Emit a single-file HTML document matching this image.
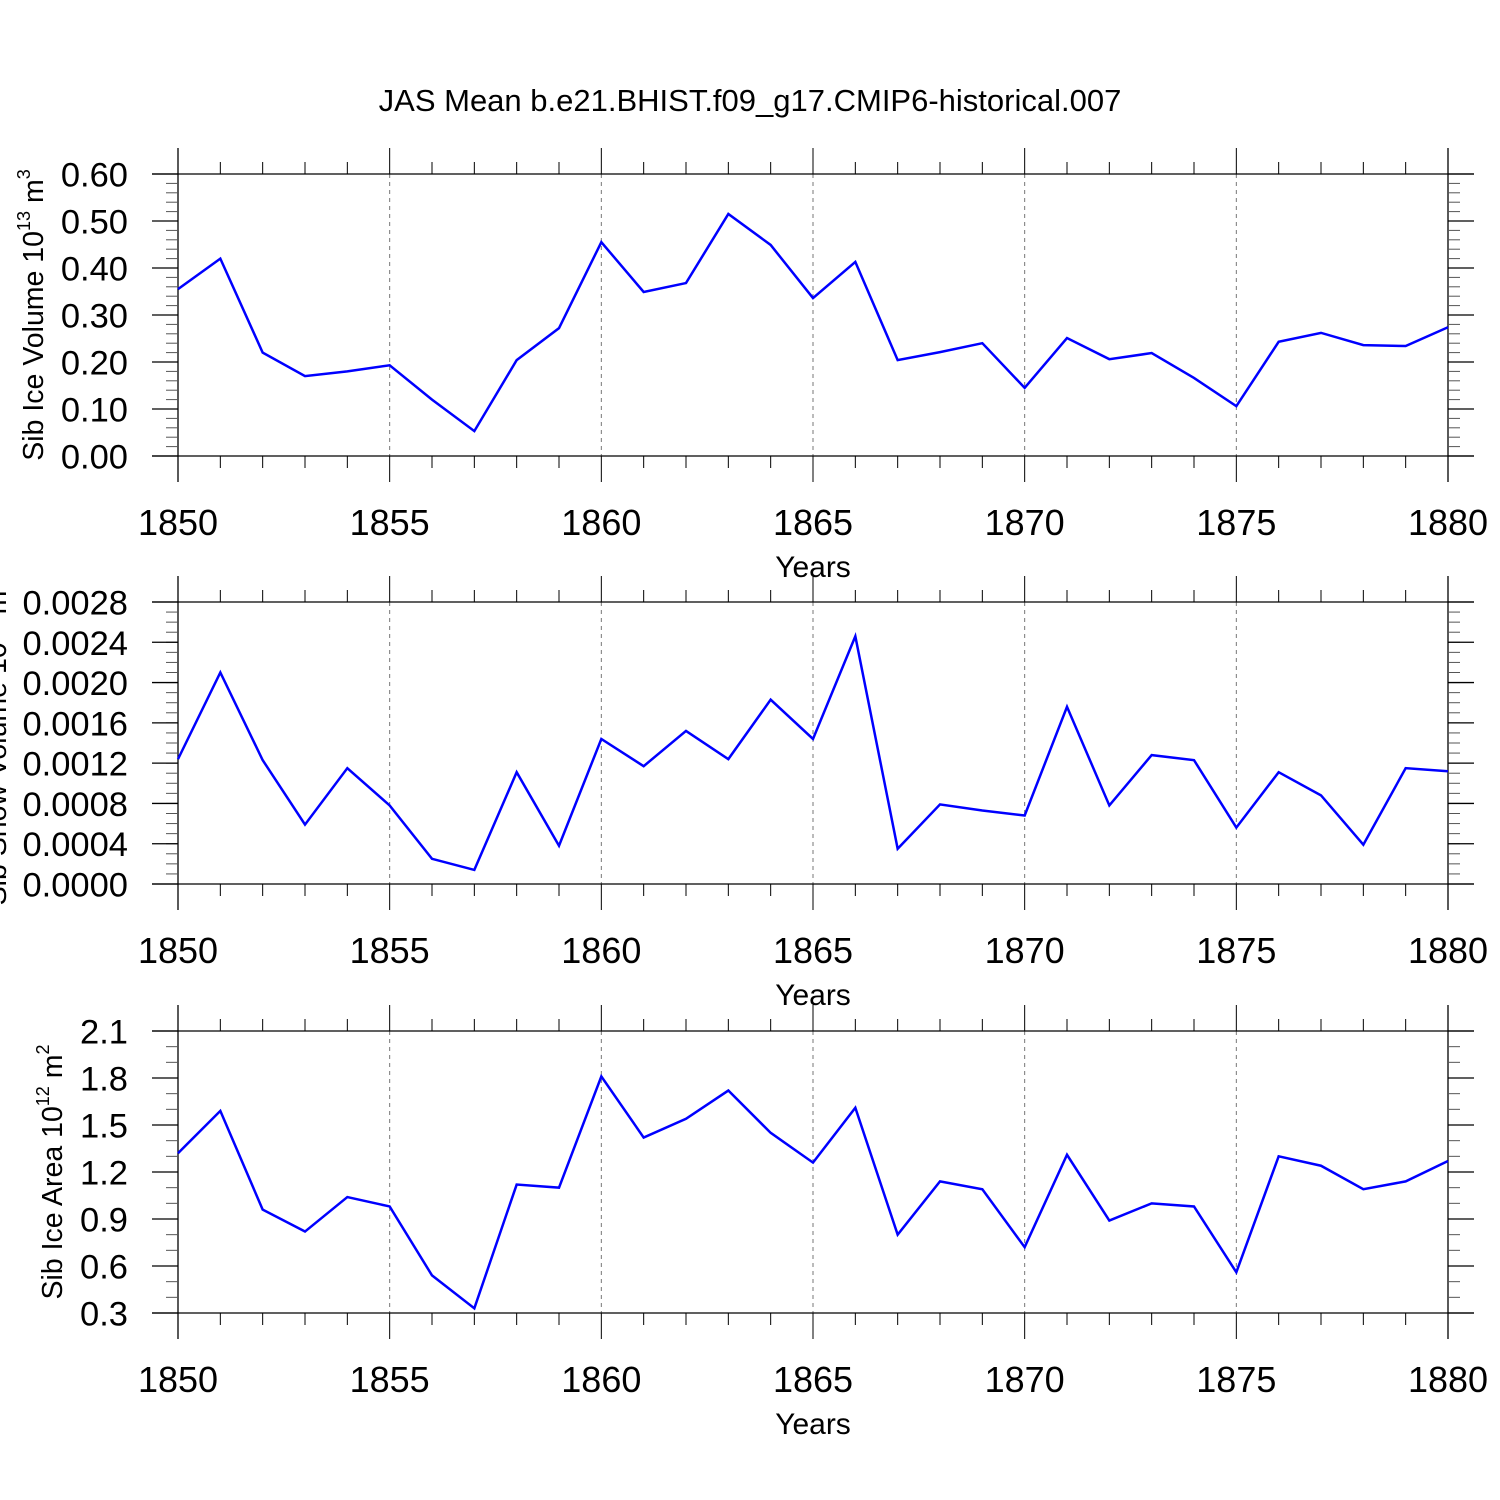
<!DOCTYPE html>
<html><head><meta charset="utf-8"><style>
body{margin:0;background:#fff}
svg{display:block;font-family:"Liberation Sans",sans-serif}
</style></head><body>
<svg id="chart" width="1500" height="1500" viewBox="0 0 1500 1500">
<rect width="1500" height="1500" fill="#fff"/>
<text x="750" y="111" font-size="31" text-anchor="middle">JAS Mean b.e21.BHIST.f09_g17.CMIP6-historical.007</text>
<g id="root"></g>
</svg>
<script>
const years = [1850,1851,1852,1853,1854,1855,1856,1857,1858,1859,1860,1861,1862,1863,1864,1865,1866,1867,1868,1869,1870,1871,1872,1873,1874,1875,1876,1877,1878,1879,1880];
const iceVolume = [0.355,0.42,0.22,0.17,0.18,0.193,0.12,0.053,0.204,0.272,0.455,0.349,0.368,0.515,0.449,0.336,0.413,0.204,0.221,0.24,0.145,0.251,0.206,0.219,0.166,0.106,0.243,0.262,0.236,0.234,0.274];
const snowVolume = [0.00124,0.0021,0.00123,0.00059,0.00115,0.00078,0.00025,0.00014,0.00111,0.00038,0.00144,0.00117,0.00152,0.00124,0.00183,0.00144,0.00246,0.00035,0.00079,0.00073,0.00068,0.00176,0.00078,0.00128,0.00123,0.00056,0.00111,0.00088,0.00039,0.00115,0.00112];
const iceArea = [1.32,1.59,0.96,0.82,1.04,0.98,0.54,0.33,1.12,1.10,1.81,1.42,1.54,1.72,1.45,1.26,1.61,0.80,1.14,1.09,0.72,1.31,0.89,1.00,0.98,0.56,1.30,1.24,1.09,1.14,1.27];
const xTicks = [1850,1855,1860,1865,1870,1875,1880];
const ticks1 = ["0.00","0.10","0.20","0.30","0.40","0.50","0.60"];
const ticks2 = ["0.0000","0.0004","0.0008","0.0012","0.0016","0.0020","0.0024","0.0028"];
const ticks3 = ["0.3","0.6","0.9","1.2","1.5","1.8","2.1"];

const NS="http://www.w3.org/2000/svg";
const root=document.getElementById('root');
const X0=178,X1=1448;
function xs(yr){return X0+(yr-1850)/(1880-1850)*(X1-X0);}
function mk(tag,attrs,parent){const e=document.createElementNS(NS,tag);for(const k in attrs)e.setAttribute(k,attrs[k]);(parent||root).appendChild(e);return e;}

function panel(name,top,ticks,minorStep,vals,label,labelX){
  const bot=top+282;
  const vmin=parseFloat(ticks[0]),vmax=parseFloat(ticks[ticks.length-1]);
  const ys=v=>bot-(v-vmin)/(vmax-vmin)*(bot-top);
  const g=mk('g',{});
  
  
  xTicks.slice(1,-1).forEach(t=>{mk('line',{x1:xs(t),x2:xs(t),y1:top,y2:bot,stroke:'#777','stroke-width':1,'stroke-dasharray':'4,4'},g);});
  mk('line',{x1:152,x2:1474,y1:top,y2:top,stroke:'#000','stroke-width':1.3},g);
  mk('line',{x1:152,x2:1474,y1:bot,y2:bot,stroke:'#000','stroke-width':1.3},g);
  mk('line',{x1:X0,x2:X0,y1:top-26,y2:bot+26,stroke:'#000','stroke-width':1.3},g);
  mk('line',{x1:X1,x2:X1,y1:top-26,y2:bot+26,stroke:'#000','stroke-width':1.3},g);
  for(let yr=1851;yr<1880;yr++){
    const major=yr%5===0;
    const L=major?26:12;
    mk('line',{x1:xs(yr),x2:xs(yr),y1:top,y2:top-L,stroke:'#000','stroke-width':1},g);
    mk('line',{x1:xs(yr),x2:xs(yr),y1:bot,y2:bot+L,stroke:'#000','stroke-width':1},g);
  }
  xTicks.forEach(t=>{
    const tl=mk('text',{x:xs(t),y:bot+79,'font-size':36,'text-anchor':'middle'},g);
    
    
    tl.textContent=t;
  });
  const xt=mk('text',{x:813,y:bot+121,'font-size':30,'text-anchor':'middle'},g);
  
  
  xt.textContent='Years';
  const n=Math.round((vmax-vmin)/minorStep);
  for(let i=1;i<n;i++){
    const v=vmin+i*minorStep;
    mk('line',{x1:X0,x2:X0-12,y1:ys(v),y2:ys(v),stroke:'#555','stroke-width':1},g);
    mk('line',{x1:X1,x2:X1+12,y1:ys(v),y2:ys(v),stroke:'#555','stroke-width':1},g);
  }
  ticks.forEach(t=>{
    const y=ys(parseFloat(t));
    mk('line',{x1:152,x2:X0,y1:y,y2:y,stroke:'#000','stroke-width':1.3},g);
    mk('line',{x1:X1,x2:1474,y1:y,y2:y,stroke:'#000','stroke-width':1.3},g);
    const tl=mk('text',{x:128,y:y+12.5,'font-size':34.5,'text-anchor':'end'},g);
    
    
    tl.textContent=t;
  });
  const cy=(top+bot)/2;
  const yl=mk('text',{x:labelX,y:cy,'font-size':28.5,'text-anchor':'middle',transform:`rotate(-90 ${labelX} ${cy})`},g);
  
  
  yl.innerHTML=label;
  const pts=vals.map((v,i)=>xs(years[i])+','+ys(v)).join(' ');
  const pl=mk('polyline',{points:pts,fill:'none',stroke:'#0000ff','stroke-width':2.5,'stroke-linejoin':'miter'},g);
  
  
}
panel('panel-ice-volume',174,ticks1,0.02,iceVolume,'Sib Ice Volume 10<tspan dy="-13" font-size="18">13</tspan><tspan dy="13"> m</tspan><tspan dy="-13" font-size="18">3</tspan>',43);
panel('panel-snow-volume',602,ticks2,0.0001,snowVolume,'Sib Snow Volume 10<tspan dy="-13" font-size="18">13</tspan><tspan dy="13"> m</tspan><tspan dy="-13" font-size="18">3</tspan>',6);
panel('panel-ice-area',1031,ticks3,0.1,iceArea,'Sib Ice Area 10<tspan dy="-13" font-size="18">12</tspan><tspan dy="13"> m</tspan><tspan dy="-13" font-size="18">2</tspan>',62);
</script>
</body></html>
